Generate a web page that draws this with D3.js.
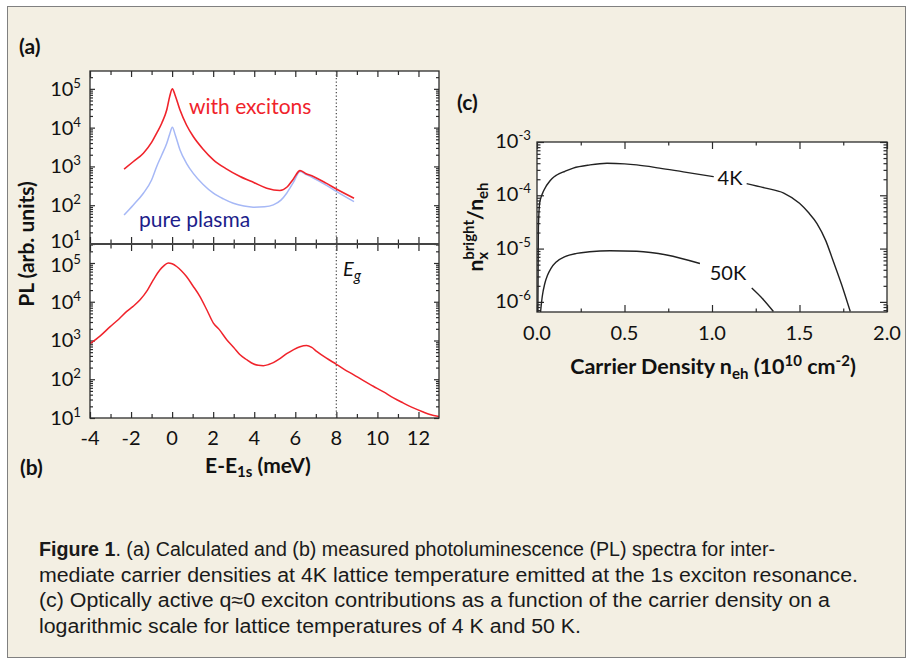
<!DOCTYPE html>
<html>
<head>
<meta charset="utf-8">
<script src="https://cdn.jsdelivr.net/npm/d3@7"></script>
<style>
  html, body { margin: 0; padding: 0; background: #fff; }
  svg { display: block; }
</style>
</head>
<body>
<svg id="fig" width="912" height="662"></svg>
<script>
// (a) calculated PL spectra
const excX = [-2.34, -1.9, -1.4, -1.0, -0.75, -0.5, -0.26, -0.12, 0.01, 0.15, 0.38, 0.7, 1.03, 1.5, 2.01, 2.6, 3.31, 4.0, 4.61, 5.25, 5.6, 5.9, 6.23, 6.5, 6.88, 7.5, 8.02, 8.86];
const excPL = [850, 1320, 2190, 4170, 7240, 13200, 28800, 63000, 100000, 67600, 28800, 11700, 5890, 2820, 1480, 890, 550, 380, 275, 240, 295, 470, 780, 660, 550, 370, 257, 151];
const plasmaX = [-2.34, -1.9, -1.4, -1.0, -0.75, -0.5, -0.26, -0.12, 0.01, 0.15, 0.38, 0.7, 1.03, 1.5, 2.01, 2.5, 2.98, 3.5, 3.95, 4.5, 4.93, 5.3, 5.58, 5.9, 6.23, 6.5, 6.88, 7.5, 8.02, 8.86];
const plasmaPL = [56, 100, 204, 447, 1000, 2000, 3980, 6760, 10200, 6600, 2690, 1200, 660, 347, 204, 145, 112, 95, 89, 91, 102, 135, 204, 380, 740, 630, 500, 331, 224, 123];

// (b) measured PL spectrum
const measX = [-4, -3.5, -3.03, -2.6, -2.21, -1.9, -1.56, -1.2, -0.91, -0.6, -0.42, -0.19, 0, 0.22, 0.45, 0.7, 1.0, 1.35, 1.7, 2.01, 2.3, 2.66, 3.0, 3.31, 3.65, 3.95, 4.2, 4.44, 4.7, 4.93, 5.25, 5.58, 5.9, 6.23, 6.55, 6.8, 7.04, 7.5, 8.02, 8.4, 8.83, 9.3, 9.8, 10.3, 10.78, 11.25, 11.75, 12.2, 12.56, 13.0];
const measPL = [832, 1318, 2239, 3548, 5623, 7586, 11220, 19950, 37150, 66070, 83180, 100000, 95500, 81280, 63100, 44670, 26300, 13800, 6026, 2818, 1905, 1047, 661, 427, 316, 251, 229, 224, 240, 269, 339, 457, 575, 692, 741, 661, 525, 355, 240, 178, 132, 93, 66, 47, 33, 24.5, 18.2, 14.5, 12.3, 11.0];

// (c) bright exciton fraction vs carrier density (null = gap for the label)
const dens4K = [0.005, 0.008, 0.015, 0.025, 0.036, 0.05, 0.065, 0.085, 0.113, 0.16, 0.207, 0.303, 0.4, 0.5, 0.57, 0.7, 0.836, 1.01, 1.1, 1.198, 1.3, 1.41, 1.5, 1.55, 1.6, 1.65, 1.69, 1.74, 1.79];
const frac4K = [6.3e-7, 2.51e-5, 7.08e-5, 9.55e-5, 1.175e-4, 1.445e-4, 1.70e-4, 2.04e-4, 2.40e-4, 2.82e-4, 3.24e-4, 3.72e-4, 3.98e-4, 3.89e-4, 3.72e-4, 3.24e-4, 2.75e-4, 2.24e-4, null, 1.66e-4, 1.38e-4, 1.10e-4, 7.08e-5, 4.79e-5, 2.95e-5, 1.41e-5, 6.17e-6, 2.14e-6, 6.6e-7];
const dens50K = [0.02, 0.03, 0.045, 0.06, 0.08, 0.11, 0.16, 0.227, 0.3, 0.417, 0.57, 0.741, 0.931, 1.1, 1.227, 1.294, 1.351];
const frac50K = [6.3e-7, 1.26e-6, 2.24e-6, 3.16e-6, 4.27e-6, 5.62e-6, 7.08e-6, 8.13e-6, 8.71e-6, 9.12e-6, 8.91e-6, 7.59e-6, 5.25e-6, null, 1.82e-6, 1.10e-6, 6.6e-7];

const energyTicks = [-4, -2, 0, 2, 4, 6, 8, 10, 12];
const energyMinor = [-3, -1, 1, 3, 5, 7, 9, 11];
const plDecades = [1, 2, 3, 4, 5];
const densityTicks = [0, 0.5, 1.0, 1.5, 2.0];
const densityMinor = [0.25, 0.75, 1.25, 1.75];
const fracDecades = [-6, -5, -4, -3];
const bandGap = 8;

const captionLines = [
  ['Figure 1', '. (a) Calculated and (b) measured photoluminescence (PL) spectra for inter-'],
  ['', 'mediate carrier densities at 4K lattice temperature emitted at the 1s exciton resonance.'],
  ['', '(c) Optically active q\u22480 exciton contributions as a function of the carrier density on a'],
  ['', 'logarithmic scale for lattice temperatures of 4 K and 50 K.']
];
const captionWidths = [736, 819, 791, 542];

const FONT = 'Lato, "Open Sans", sans-serif';
const INK = '#2b2b2b';
const RED = '#f0232b';
const BLUE = '#a6b8f6';

const svg = d3.select('#fig');

svg.append('rect').attr('x', 7.5).attr('y', 6.5).attr('width', 898).attr('height', 651)
  .attr('fill', '#f3efe3').attr('stroke', '#808080').attr('stroke-width', 1);

// scales
const xA = d3.scaleLinear().domain([-4, 13]).range([90, 439]);
const yA = d3.scaleLog().domain([10, Math.pow(10, 5.46)]).range([244, 71]);
const yB = d3.scaleLog().domain([10, Math.pow(10, 5.49)]).range([418, 244]);
const xC = d3.scaleLinear().domain([0, 2]).range([537, 887]);
const yC = d3.scaleLog().domain([Math.pow(10, -6.19), 1e-3]).range([312, 142]);

function addAxis(axis, tx, ty) {
  const g = svg.append('g').attr('transform', `translate(${tx},${ty})`).call(axis);
  g.select('.domain').remove();
  g.selectAll('line').attr('stroke', INK).attr('stroke-width', 1.2);
  return g;
}

function logTicks(scale) {
  const all = scale.ticks();
  const major = all.filter(v => Math.abs(Math.log10(v) - Math.round(Math.log10(v))) < 1e-9);
  const minor = all.filter(v => !major.includes(v));
  return { major, minor };
}

function yFrameTicks(yScale, x0, x1, majorLen, minorLen) {
  const t = logTicks(yScale);
  addAxis(d3.axisLeft(yScale).tickValues(t.major).tickSize(-majorLen).tickFormat(''), x0, 0);
  addAxis(d3.axisLeft(yScale).tickValues(t.minor).tickSize(-minorLen).tickFormat(''), x0, 0);
  addAxis(d3.axisRight(yScale).tickValues(t.major).tickSize(-majorLen).tickFormat(''), x1, 0);
  addAxis(d3.axisRight(yScale).tickValues(t.minor).tickSize(-minorLen).tickFormat(''), x1, 0);
}

function powLabel(x, y, exp, size) {
  const t = svg.append('text').attr('x', x).attr('y', y)
    .attr('text-anchor', 'end').attr('font-family', FONT).attr('font-size', size).attr('fill', '#111');
  t.append('tspan').text('10');
  t.append('tspan').attr('dy', -8).attr('font-size', size * 0.66).text(exp);
}

// ---- panels (a) + (b) ----
svg.append('rect').attr('x', 90).attr('y', 71).attr('width', 349).attr('height', 347).attr('fill', '#fff');

svg.append('defs').append('clipPath').attr('id', 'clipAB')
  .append('rect').attr('x', 90).attr('y', 71).attr('width', 349).attr('height', 347);
svg.select('defs').append('clipPath').attr('id', 'clipC')
  .append('rect').attr('x', 537).attr('y', 142).attr('width', 350).attr('height', 170);

yFrameTicks(yA, 90, 439, 5, 3);
yFrameTicks(yB, 90, 439, 5, 3);

addAxis(d3.axisTop(xA).tickValues(energyTicks).tickSize(-6).tickFormat(''), 0, 71);
addAxis(d3.axisTop(xA).tickValues(energyMinor).tickSize(-4).tickFormat(''), 0, 71);
addAxis(d3.axisBottom(xA).tickValues(energyTicks).tickSize(7).tickFormat(''), 0, 244);
addAxis(d3.axisBottom(xA).tickValues(energyTicks).tickSize(-7).tickFormat(''), 0, 244);
addAxis(d3.axisBottom(xA).tickValues(energyMinor).tickSize(4.5).tickFormat(''), 0, 244);
addAxis(d3.axisBottom(xA).tickValues(energyMinor).tickSize(-4.5).tickFormat(''), 0, 244);
addAxis(d3.axisBottom(xA).tickValues(energyTicks).tickSize(-6).tickFormat(''), 0, 418);
addAxis(d3.axisBottom(xA).tickValues(energyMinor).tickSize(-4).tickFormat(''), 0, 418);

// band gap marker
svg.append('line')
  .attr('x1', xA(bandGap)).attr('x2', xA(bandGap)).attr('y1', 71).attr('y2', 418)
  .attr('stroke', '#555').attr('stroke-width', 1.3).attr('stroke-dasharray', '1.3,2.2');

const lineA = d3.line().x(d => xA(d[0])).y(d => yA(d[1])).curve(d3.curveMonotoneX);
const lineB = d3.line().x(d => xA(d[0])).y(d => yB(d[1])).curve(d3.curveMonotoneX);

svg.append('path').datum(d3.zip(plasmaX, plasmaPL)).attr('d', lineA)
  .attr('fill', 'none').attr('stroke', BLUE).attr('stroke-width', 1.5).attr('clip-path', 'url(#clipAB)');
svg.append('path').datum(d3.zip(excX, excPL)).attr('d', lineA)
  .attr('fill', 'none').attr('stroke', RED).attr('stroke-width', 1.6).attr('clip-path', 'url(#clipAB)');
svg.append('path').datum(d3.zip(measX, measPL)).attr('d', lineB)
  .attr('fill', 'none').attr('stroke', RED).attr('stroke-width', 1.5).attr('clip-path', 'url(#clipAB)');

// frame + shared axis
svg.append('rect').attr('x', 90).attr('y', 71).attr('width', 349).attr('height', 347)
  .attr('fill', 'none').attr('stroke', INK).attr('stroke-width', 1.3);
svg.append('line').attr('x1', 90).attr('x2', 439).attr('y1', 244).attr('y2', 244)
  .attr('stroke', '#444').attr('stroke-width', 2.2);

plDecades.forEach(k => powLabel(81, yA(Math.pow(10, k)) + (k === 1 ? 4 : 7), String(k), 20));
plDecades.forEach(k => powLabel(81, yB(Math.pow(10, k)) + (k === 5 ? 9 : 7), String(k), 20));

svg.append('g').selectAll('text').data(energyTicks).join('text')
  .attr('x', d => xA(d)).attr('y', 445).attr('text-anchor', 'middle')
  .attr('font-family', FONT).attr('font-size', 20).attr('fill', '#111')
  .text(d => d < 0 ? '-' + Math.abs(d) : String(d));

svg.append('text').attr('x', 189).attr('y', 114).attr('font-family', FONT).attr('font-size', 21)
  .attr('fill', RED).text('with excitons');
svg.append('text').attr('x', 139).attr('y', 227).attr('font-family', FONT).attr('font-size', 21)
  .attr('fill', '#1d1d8a').text('pure plasma');

const eg = svg.append('text').attr('x', 343).attr('y', 276).attr('font-family', FONT)
  .attr('font-style', 'italic').attr('font-size', 20).attr('fill', '#111');
eg.append('tspan').text('E');
eg.append('tspan').attr('dy', 5).attr('font-size', 15).text('g');

svg.append('text').attr('x', 19).attr('y', 54).attr('font-family', FONT).attr('font-weight', 'bold')
  .attr('font-size', 21).attr('fill', '#111').text('(a)');
svg.append('text').attr('x', 20).attr('y', 475).attr('font-family', FONT).attr('font-weight', 'bold')
  .attr('font-size', 21).attr('fill', '#111').text('(b)');

svg.append('text').attr('transform', 'translate(34,244) rotate(-90)').attr('text-anchor', 'middle')
  .attr('font-family', FONT).attr('font-weight', 'bold').attr('font-size', 21).attr('fill', '#111')
  .text('PL (arb. units)');

const xlabB = svg.append('text').attr('x', 258).attr('y', 473).attr('text-anchor', 'middle')
  .attr('font-family', FONT).attr('font-weight', 'bold').attr('font-size', 21).attr('fill', '#111');
xlabB.append('tspan').text('E-E');
xlabB.append('tspan').attr('dy', 4).attr('font-size', 15).text('1s');
xlabB.append('tspan').attr('dy', -4).text(' (meV)');

// ---- panel (c) ----
svg.append('rect').attr('x', 537).attr('y', 142).attr('width', 350).attr('height', 170).attr('fill', '#fff');

const tc = logTicks(yC);
addAxis(d3.axisLeft(yC).tickValues(tc.major).tickSize(-7).tickFormat(''), 537, 0);
addAxis(d3.axisLeft(yC).tickValues(tc.minor).tickSize(-3.5).tickFormat(''), 537, 0);
addAxis(d3.axisRight(yC).tickValues(tc.major).tickSize(-7).tickFormat(''), 887, 0);
addAxis(d3.axisRight(yC).tickValues(tc.minor).tickSize(-3.5).tickFormat(''), 887, 0);
addAxis(d3.axisTop(xC).tickValues(densityTicks).tickSize(-7).tickFormat(''), 0, 142);
addAxis(d3.axisTop(xC).tickValues(densityMinor).tickSize(-3.5).tickFormat(''), 0, 142);
addAxis(d3.axisBottom(xC).tickValues(densityTicks).tickSize(-7).tickFormat(''), 0, 312);
addAxis(d3.axisBottom(xC).tickValues(densityMinor).tickSize(-3.5).tickFormat(''), 0, 312);

const lineC = d3.line().defined(d => d[1] != null).x(d => xC(d[0])).y(d => yC(d[1])).curve(d3.curveMonotoneX);
svg.append('path').datum(d3.zip(dens4K, frac4K)).attr('d', lineC)
  .attr('fill', 'none').attr('stroke', '#222').attr('stroke-width', 1.4).attr('clip-path', 'url(#clipC)');
svg.append('path').datum(d3.zip(dens50K, frac50K)).attr('d', lineC)
  .attr('fill', 'none').attr('stroke', '#222').attr('stroke-width', 1.4).attr('clip-path', 'url(#clipC)');

svg.append('rect').attr('x', 537).attr('y', 142).attr('width', 350).attr('height', 170)
  .attr('fill', 'none').attr('stroke', INK).attr('stroke-width', 1.3);

svg.append('text').attr('x', 730).attr('y', 185).attr('text-anchor', 'middle').attr('font-family', FONT)
  .attr('font-size', 20).attr('fill', '#111').text('4K');
svg.append('text').attr('x', 728).attr('y', 280).attr('text-anchor', 'middle').attr('font-family', FONT)
  .attr('font-size', 20).attr('fill', '#111').text('50K');

fracDecades.forEach(k => powLabel(531, yC(Math.pow(10, k)) + 6, String(k), 20));

svg.append('g').selectAll('text').data(densityTicks).join('text')
  .attr('x', d => xC(d)).attr('y', 340).attr('text-anchor', 'middle')
  .attr('font-family', FONT).attr('font-size', 20).attr('fill', '#111')
  .text(d => d.toFixed(1));

svg.append('text').attr('x', 457).attr('y', 110).attr('font-family', FONT).attr('font-weight', 'bold')
  .attr('font-size', 21).attr('fill', '#111').text('(c)');

const xlabC = svg.append('text').attr('x', 713).attr('y', 374).attr('text-anchor', 'middle')
  .attr('font-family', FONT).attr('font-weight', 'bold').attr('font-size', 21.5).attr('fill', '#111');
xlabC.append('tspan').text('Carrier Density n');
xlabC.append('tspan').attr('dy', 5).attr('font-size', 15).text('eh');
xlabC.append('tspan').attr('dy', -5).text(' (10');
xlabC.append('tspan').attr('dy', -8).attr('font-size', 15).text('10');
xlabC.append('tspan').attr('dy', 8).text(' cm');
xlabC.append('tspan').attr('dy', -8).attr('font-size', 15).text('-2');
xlabC.append('tspan').attr('dy', 8).text(')');

const ylabC = svg.append('text').attr('transform', 'translate(483,227) rotate(-90)').attr('text-anchor', 'middle')
  .attr('font-family', FONT).attr('font-weight', 'bold').attr('font-size', 21).attr('fill', '#111');
ylabC.append('tspan').text('n');
ylabC.append('tspan').attr('dy', 5).attr('font-size', 15).text('x');
ylabC.append('tspan').attr('dy', -14).attr('dx', -8).attr('font-size', 15).text('bright');
ylabC.append('tspan').attr('dy', 9).text('/n');
ylabC.append('tspan').attr('dy', 5).attr('font-size', 15).text('eh');

// ---- caption ----
const cap = svg.append('g').attr('font-family', '"Liberation Sans Narrow", "Liberation Sans", sans-serif')
  .attr('font-size', 20).attr('fill', '#1a1a1a');
captionLines.forEach((parts, i) => {
  const t = cap.append('text').attr('x', 39).attr('y', 556 + i * 25.5)
    .attr('textLength', captionWidths[i]).attr('lengthAdjust', 'spacingAndGlyphs');
  if (parts[0]) t.append('tspan').attr('font-weight', 'bold').text(parts[0]);
  t.append('tspan').text(parts[1]);
});
</script>
</body>
</html>
